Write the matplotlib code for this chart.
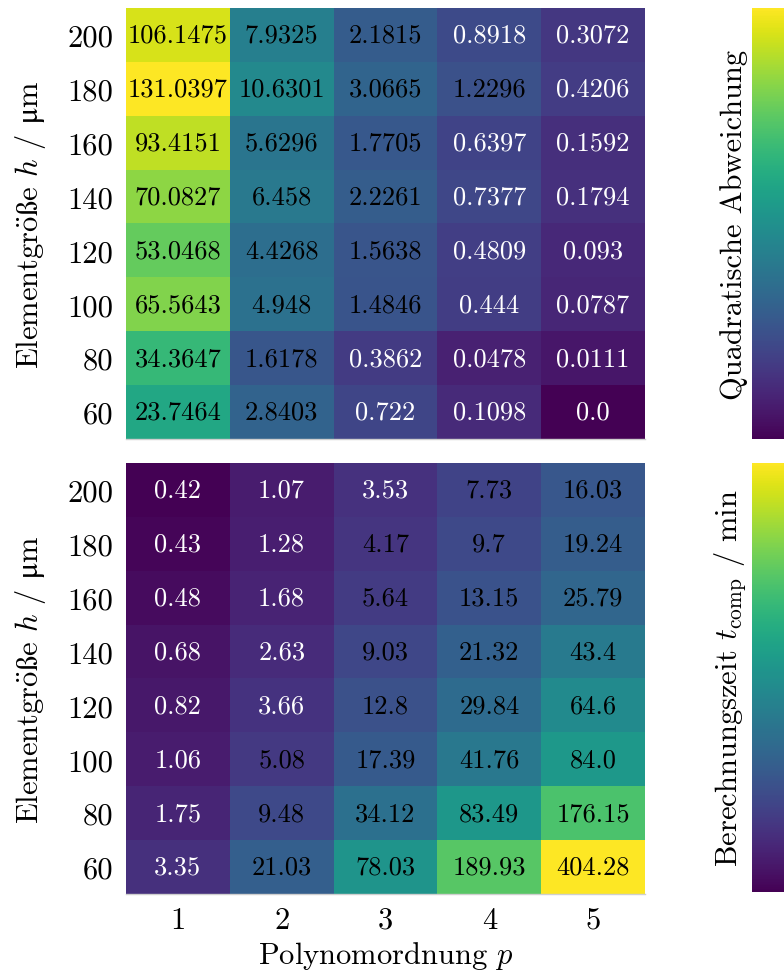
import numpy as np
import matplotlib
matplotlib.use("Agg")
import matplotlib.pyplot as plt
from matplotlib.colors import PowerNorm

plt.rcParams['font.family'] = ['cmr10', 'DejaVu Serif']
plt.rcParams['mathtext.fontset'] = 'cm'
plt.rcParams['axes.unicode_minus'] = False

# element size h in µm (rows, top to bottom) and polynomial order p (columns)
h_values = [200, 180, 160, 140, 120, 100, 80, 60]
p_values = [1, 2, 3, 4, 5]

# squared deviation
sq_error = [
    [106.1475, 7.9325, 2.1815, 0.8918, 0.3072],
    [131.0397, 10.6301, 3.0665, 1.2296, 0.4206],
    [93.4151, 5.6296, 1.7705, 0.6397, 0.1592],
    [70.0827, 6.458, 2.2261, 0.7377, 0.1794],
    [53.0468, 4.4268, 1.5638, 0.4809, 0.093],
    [65.5643, 4.948, 1.4846, 0.444, 0.0787],
    [34.3647, 1.6178, 0.3862, 0.0478, 0.0111],
    [23.7464, 2.8403, 0.722, 0.1098, 0.0],
]

# computation time in minutes
t_comp = [
    [0.42, 1.07, 3.53, 7.73, 16.03],
    [0.43, 1.28, 4.17, 9.7, 19.24],
    [0.48, 1.68, 5.64, 13.15, 25.79],
    [0.68, 2.63, 9.03, 21.32, 43.4],
    [0.82, 3.66, 12.8, 29.84, 64.6],
    [1.06, 5.08, 17.39, 41.76, 84.0],
    [1.75, 9.48, 34.12, 83.49, 176.15],
    [3.35, 21.03, 78.03, 189.93, 404.28],
]

# cmr10 has no proper umlaut / sharp s / mu, so build them with mathtext
ylabel = r'$\mathrm{Elementgr\ddot{o}\ss e}$ $h$ / $\mathrm{μ}$m'

W, H = 784, 979
fig = plt.figure(figsize=(W / 100, H / 100), dpi=100)


def box(x0, y0, x1, y1):
    return [x0 / W, 1 - y1 / H, (x1 - x0) / W, (y1 - y0) / H]


def heatmap(ax, cax, data, norm, white_below, cbar_label, show_x):
    data = np.array(data)
    im = ax.imshow(data, cmap='viridis', norm=norm, aspect='auto',
                   interpolation='nearest')
    for i in range(data.shape[0]):
        for j in range(data.shape[1]):
            v = data[i, j]
            ax.text(j, i, str(v), ha='center', va='center', fontsize=19,
                    color='white' if v < white_below else 'black')
    ax.set_yticks(range(len(h_values)))
    ax.set_yticklabels([str(h) for h in h_values])
    ax.set_xticks(range(len(p_values)))
    if show_x:
        ax.set_xticklabels([str(p) for p in p_values])
        ax.set_xlabel(r'Polynomordnung $p$', fontsize=22, labelpad=4)
    else:
        ax.set_xticklabels([])
    ax.tick_params(length=0, labelsize=22, pad=9)
    ax.set_ylabel(ylabel, fontsize=22, labelpad=14)
    for s in ['top', 'left', 'right']:
        ax.spines[s].set_visible(False)
    ax.spines['bottom'].set_color('#cfcfcf')
    ax.spines['bottom'].set_linewidth(1.0)

    cb = fig.colorbar(im, cax=cax)
    cb.outline.set_visible(False)
    cb.ax.tick_params(right=False, labelright=False, left=False, labelleft=False)
    cb.ax.yaxis.set_label_position('left')
    cb.set_label(cbar_label, fontsize=22, labelpad=3)
    return im


ax1 = fig.add_axes(box(126, 9, 645, 440))
cax1 = fig.add_axes(box(752, 9, 800, 440))
heatmap(ax1, cax1, sq_error, PowerNorm(gamma=0.3, vmin=0.0, vmax=131.0397),
        1.0, 'Quadratische Abweichung', False)

ax2 = fig.add_axes(box(126, 464, 645, 895))
cax2 = fig.add_axes(box(752, 464, 800, 893))
heatmap(ax2, cax2, t_comp, PowerNorm(gamma=0.4, vmin=0.42, vmax=404.28),
        4.0, r'Berechnungszeit $t_\mathrm{comp}$ / min', True)

fig.savefig('out.png', dpi=100)
